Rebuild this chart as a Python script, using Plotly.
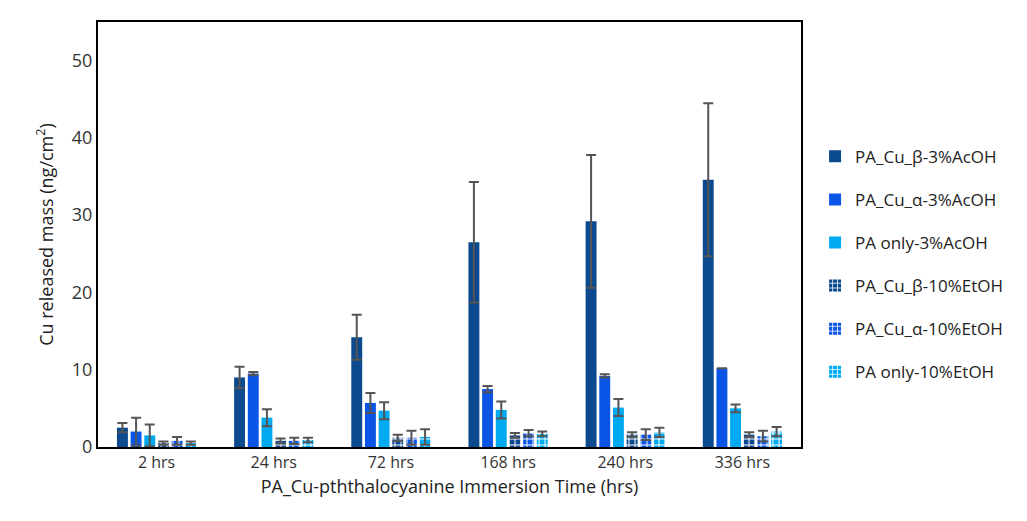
import plotly.graph_objects as go

times = ['2 hrs', '24 hrs', '72 hrs', '168 hrs', '240 hrs', '336 hrs']
names = ['PA_Cu_β-3%AcOH', 'PA_Cu_α-3%AcOH', 'PA only-3%AcOH',
         'PA_Cu_β-10%EtOH', 'PA_Cu_α-10%EtOH', 'PA only-10%EtOH']
beta_acoh = [2.5, 9.0, 14.2, 26.5, 29.2, 34.6]
beta_acoh_err = [0.6, 1.4, 2.9, 7.8, 8.6, 9.9]
alpha_acoh = [2.0, 9.5, 5.7, 7.5, 9.2, 10.2]
alpha_acoh_err = [1.8, 0.2, 1.3, 0.4, 0.2, 0.0]
only_acoh = [1.5, 3.8, 4.7, 4.8, 5.1, 5.0]
only_acoh_err = [1.4, 1.1, 1.1, 1.1, 1.1, 0.5]
beta_etoh = [0.5, 0.8, 1.2, 1.5, 1.6, 1.6]
beta_etoh_err = [0.2, 0.3, 0.4, 0.3, 0.3, 0.3]
alpha_etoh = [0.8, 0.8, 1.2, 1.8, 1.6, 1.4]
alpha_etoh_err = [0.5, 0.4, 0.9, 0.4, 0.7, 0.7]
only_etoh = [0.5, 0.9, 1.3, 1.7, 1.9, 2.0]
only_etoh_err = [0.2, 0.3, 1.0, 0.3, 0.6, 0.6]

series = [beta_acoh, alpha_acoh, only_acoh, beta_etoh, alpha_etoh, only_etoh]
errors = [beta_acoh_err, alpha_acoh_err, only_acoh_err, beta_etoh_err, alpha_etoh_err, only_etoh_err]
colors = ['#0B4A8F', '#0A55E6', '#00AAF2'] * 2

fig = go.Figure()
for i, (n, v, e, c) in enumerate(zip(names, series, errors, colors)):
    marker = dict(color=c, line=dict(width=0))
    if i >= 3:
        marker['pattern'] = dict(shape='+', fgcolor='white', size=6, solidity=0.3, fillmode='replace', bgcolor=c)
    fig.add_trace(go.Bar(
        x=times, y=v, name=n, marker=marker, legendgroup=f'g{i}',
        error_y=dict(type='data', array=e, color='#555555', thickness=2, width=5),
    ))

font = 'Open Sans, DejaVu Sans, sans-serif'
fig.update_layout(
    width=1027, height=521, barmode='group', bargap=0.3, bargroupgap=0.2,
    plot_bgcolor='white', paper_bgcolor='white',
    font=dict(family=font, size=16, color='#333333'),
    margin=dict(l=90, r=234, t=12, b=82),
    legend=dict(x=1.02, y=0.43, yanchor='middle', font=dict(size=17, color='#222222'),
                tracegroupgap=18),
    showlegend=True,
)
fig.update_xaxes(showline=True, linecolor='black', linewidth=2, mirror=True, ticks='',
                 tickfont=dict(size=16),
                 title=dict(text='PA_Cu-pththalocyanine Immersion Time (hrs)', font=dict(size=18, color='#222222'), standoff=8))
fig.update_yaxes(range=[0, 55], dtick=10, showgrid=False, showline=True, linecolor='black', linewidth=2,
                 mirror=True, ticks='', zeroline=False, tickfont=dict(size=18),
                 title=dict(text='Cu released mass (ng/cm<sup>2</sup>)', font=dict(size=18, color='#222222'), standoff=14))
fig.write_html('out.html')
